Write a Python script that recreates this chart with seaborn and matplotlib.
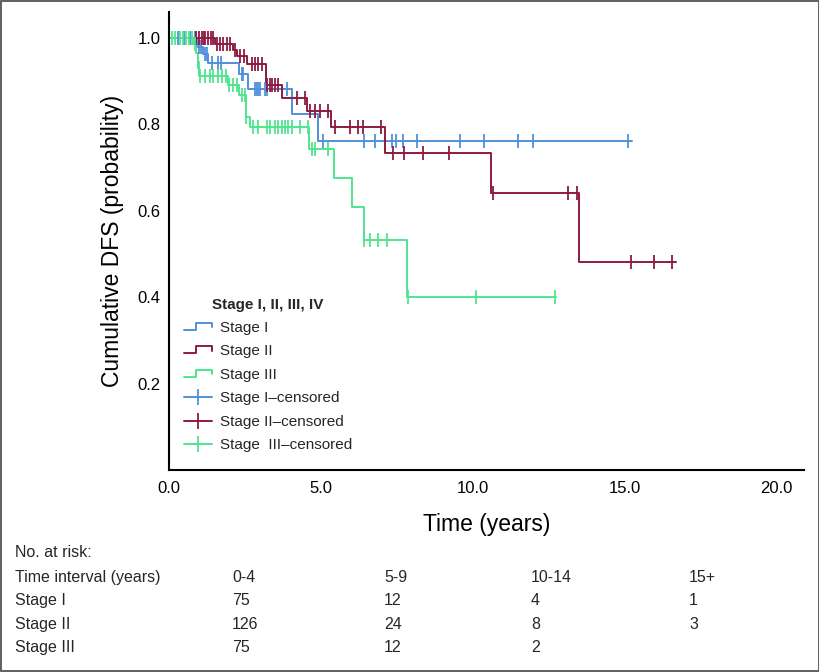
import numpy as np
import pandas as pd
import matplotlib
matplotlib.use('Agg')
import matplotlib.pyplot as plt
import seaborn as sns
from matplotlib.lines import Line2D
from matplotlib.legend_handler import HandlerBase
from matplotlib.patches import Rectangle

# Curvas de Kaplan-Meier (tempo da queda, sobrevida após a queda)
tempo_1 = [0, 0.94, 1.12, 1.30, 2.30, 2.60, 4.05, 4.90, 15.26]
surv_1 = [1.0, 0.980, 0.964, 0.941, 0.916, 0.883, 0.825, 0.761, 0.761]

tempo_2 = [0, 1.51, 2.10, 2.25, 2.57, 3.19, 3.72, 4.54, 5.33, 7.10, 10.60, 13.52, 16.70]
surv_2 = [1.0, 0.987, 0.973, 0.958, 0.939, 0.892, 0.862, 0.832, 0.793, 0.733, 0.640, 0.481, 0.481]

tempo_3 = [0, 0.80, 0.90, 0.97, 1.00, 1.94, 2.30, 2.53, 2.66, 4.60, 5.43, 6.02, 6.41, 7.83, 12.76]
surv_3 = [1.0, 0.987, 0.965, 0.93, 0.913, 0.89, 0.867, 0.816, 0.793, 0.742, 0.675, 0.608, 0.532, 0.40, 0.40]

# Tempos censurados
cens_1 = [0.3, 0.5, 0.7, 0.85, 0.99, 1.05, 1.2, 1.25, 1.41, 1.61, 1.71, 2.40, 2.45,
          2.83, 2.89, 2.93, 3.0, 3.16, 3.22, 3.9, 5.07, 6.41, 6.78, 7.34, 7.47, 7.7,
          8.16, 9.6, 10.39, 11.51, 12.0, 15.13]
cens_2 = [0.9, 1.0, 1.1, 1.15, 1.2, 1.3, 1.4, 1.45, 1.58, 1.68, 1.78, 1.91, 2.0, 2.17,
          2.34, 2.47, 2.73, 2.83, 2.93, 3.06, 3.22, 3.32, 3.39, 3.49, 3.59, 4.21, 4.47,
          4.64, 4.8, 4.97, 5.23, 5.46, 5.95, 6.22, 6.38, 7.0, 7.37, 7.73, 8.36, 9.21,
          10.66, 13.13, 13.45, 15.23, 15.99, 16.58]
cens_3 = [0.1, 0.2, 0.35, 0.45, 0.55, 0.65, 0.75, 0.85, 0.99, 1.02, 1.18, 1.35, 1.45,
          1.61, 1.74, 1.88, 1.98, 2.1, 2.24, 2.4, 2.5, 2.55, 2.76, 2.93, 3.22, 3.32,
          3.49, 3.59, 3.72, 3.82, 3.91, 4.05, 4.31, 4.57, 4.7, 4.8, 5.23, 6.41, 6.61,
          6.88, 7.17, 7.86, 10.1, 12.7]

estagios = ['Stage I', 'Stage II', 'Stage III']
rotulos_cens = ['Stage I\u2013censored', 'Stage II\u2013censored', 'Stage  III\u2013censored']
cores = ['#4f91dc', '#8e1a42', '#4fe58e']

# Tabela de números em risco
intervalos = ['0-4', '5-9', '10-14', '15+']
risco_1 = [75, 12, 4, 1]
risco_2 = [126, 24, 8, 3]
risco_3 = [75, 12, 2, None]


class HandlerStep(HandlerBase):
    # desenha o ícone em forma de degrau na legenda
    def create_artists(self, legend, orig_handle, xdescent, ydescent, width, height, fontsize, trans):
        x0, y0 = -xdescent, -ydescent
        xs = [x0, x0 + 0.45 * width, x0 + 0.45 * width, x0 + width, x0 + width]
        ys = [y0 + 0.2 * height, y0 + 0.2 * height, y0 + 0.85 * height, y0 + 0.85 * height, y0 + 0.45 * height]
        linha = Line2D(xs, ys, color=orig_handle.get_color(), lw=orig_handle.get_linewidth(), transform=trans)
        return [linha]


def valor_em(tempos, surv, t):
    idx = np.searchsorted(tempos, t, side='right') - 1
    return np.array(surv)[idx]


sns.set_theme(style='white')
plt.rcParams['font.family'] = ['Liberation Sans', 'DejaVu Sans']

fig = plt.figure(figsize=(8.2, 6.72), dpi=100)
ax = fig.add_axes([0.206, 0.3006, 0.774, 0.6815])

curvas = [(tempo_1, surv_1, cens_1), (tempo_2, surv_2, cens_2), (tempo_3, surv_3, cens_3)]
for (tempos, surv, cens), cor, nome in zip(curvas, cores, estagios):
    df = pd.DataFrame({'tempo': tempos, 'surv': surv})
    sns.lineplot(data=df, x='tempo', y='surv', ax=ax, color=cor, lw=1.4,
                 drawstyle='steps-post', estimator=None, sort=False)
    dc = pd.DataFrame({'tempo': cens, 'surv': valor_em(tempos, surv, cens)})
    sns.scatterplot(data=dc, x='tempo', y='surv', ax=ax, color=cor, marker='|',
                    s=90, linewidth=1.3, zorder=3)

ax.set_xlim(0, 20.9)
ax.set_ylim(0, 1.06)
ax.set_xticks([0, 5, 10, 15, 20])
ax.set_xticklabels(['0.0', '5.0', '10.0', '15.0', '20.0'])
ax.set_yticks([0.2, 0.4, 0.6, 0.8, 1.0])
ax.set_yticklabels(['0.2', '0.4', '0.6', '0.8', '1.0'])
ax.tick_params(axis='both', length=0, labelsize=12, colors='black')
ax.tick_params(axis='x', pad=8)
ax.tick_params(axis='y', pad=6)
ax.set_xlabel('Time (years)', fontsize=16.5, labelpad=12, color='black')
ax.set_ylabel('Cumulative DFS (probability)', fontsize=16.5, labelpad=10, color='black')
for lado in ['top', 'right']:
    ax.spines[lado].set_visible(False)
for lado in ['left', 'bottom']:
    ax.spines[lado].set_color('black')
    ax.spines[lado].set_linewidth(1.5)

# Legenda
alcas = [Line2D([], [], color=c, lw=1.4) for c in cores]
alcas_cens = [Line2D([], [], color=c, lw=1.4, marker='|', markersize=12, markeredgewidth=1.3) for c in cores]
hmap = {h: HandlerStep() for h in alcas}
leg = ax.legend(alcas + alcas_cens, estagios + rotulos_cens, handler_map=hmap,
                loc='upper left', bbox_to_anchor=(0.007, 0.40), frameon=False,
                fontsize=11, title='Stage I, II, III, IV',
                title_fontproperties={'weight': 'bold', 'size': 11},
                handlelength=1.8, handletextpad=0.55, labelspacing=0.62, borderaxespad=0.3)

# Tabela "No. at risk" (linhas de base em pixels)
def fy(py):
    return 1 - py / 672.0

linhas_y = [557, 582, 605, 629, 652]
col_x = [232, 384, 531, 689]
fs_tab = 11.5
fig.text(15 / 820, fy(linhas_y[0]), 'No. at risk:', fontsize=fs_tab, va='baseline')
fig.text(15 / 820, fy(linhas_y[1]), 'Time interval (years)', fontsize=fs_tab, va='baseline')
for cx, iv in zip(col_x, intervalos):
    fig.text(cx / 820, fy(linhas_y[1]), iv, fontsize=fs_tab, va='baseline')
for ly, nome, riscos in zip(linhas_y[2:], estagios, [risco_1, risco_2, risco_3]):
    fig.text(15 / 820, fy(ly), nome, fontsize=fs_tab, va='baseline')
    for cx, r in zip(col_x, riscos):
        if r is not None:
            fig.text(cx / 820, fy(ly), str(r), fontsize=fs_tab, va='baseline')

fig.patches.append(Rectangle((0.0015, 0.0015), 0.997, 0.997, transform=fig.transFigure,
                             fill=False, lw=1.2, ec='#444444'))

fig.savefig('out.png', dpi=100)
plt.close()
